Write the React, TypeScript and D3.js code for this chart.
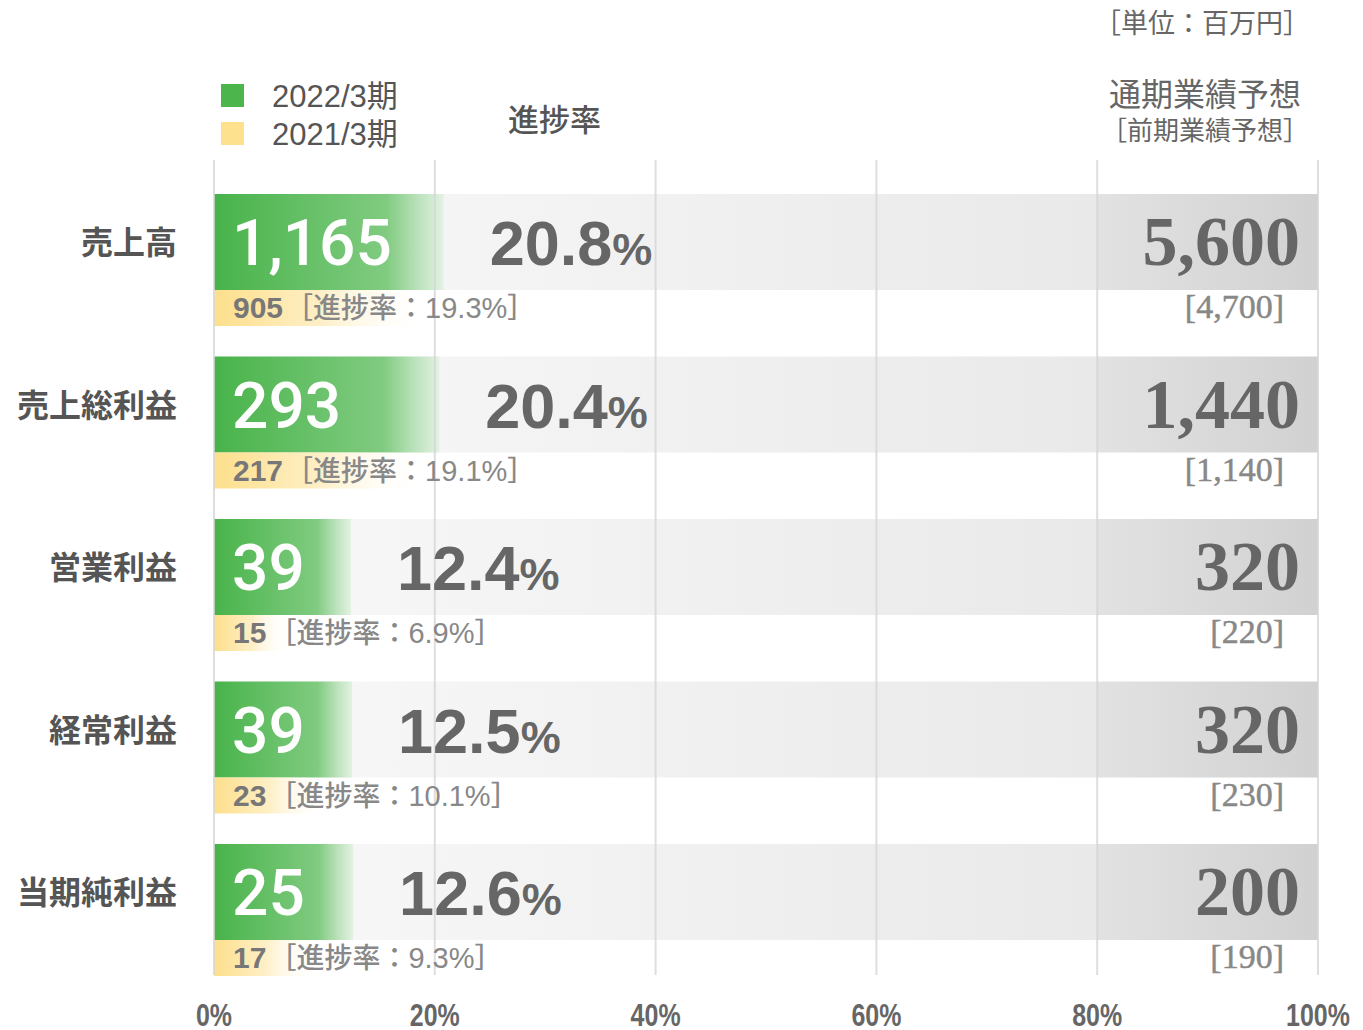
import * as d3 from 'd3'

const categories = ['売上高', '売上総利益', '営業利益', '経常利益', '当期純利益']
const current = [1165, 293, 39, 39, 25]
const progress = [20.8, 20.4, 12.4, 12.5, 12.6]
const previous = [905, 217, 15, 23, 17]
const prevProgress = [19.3, 19.1, 6.9, 10.1, 9.3]
const forecast = [5600, 1440, 320, 320, 200]
const prevForecast = [4700, 1140, 220, 230, 190]
const xTicks = [0, 20, 40, 60, 80, 100]

const width = 1363
const height = 1030
const JP = '"Noto Sans CJK JP", "Noto Sans", sans-serif'
const SANS = '"Liberation Sans", Arial, sans-serif'
const ROBOTO = 'Roboto, "Liberation Sans", sans-serif'
const SERIF = '"Liberation Serif", "Times New Roman", serif'

const fmt = d3.format(',')

export default function App() {
  const x = d3.scaleLinear([0, 100], [214, 1318])
  const y = d3
    .scaleBand<string>()
    .domain(categories)
    .range([194, 976])
    .paddingInner(30.5 / 162.5)
    .paddingOuter(0)
  const barH = 96
  const subH = y.bandwidth() - barH

  return (
    <svg
      width={width}
      height={height}
      style={{ position: 'absolute', left: 0, top: 0, background: '#fff' }}
    >
      <defs>
        <linearGradient id="green" x1="0" x2="1" y1="0" y2="0">
          <stop offset="0" stopColor="#48b34a" />
          <stop offset="0.75" stopColor="#80cb80" />
          <stop offset="0.9" stopColor="#bfe3bf" />
          <stop offset="1" stopColor="#e2f2e2" />
        </linearGradient>
        <linearGradient id="yellow" x1="0" x2="1" y1="0" y2="0">
          <stop offset="0" stopColor="#fddf8c" />
          <stop offset="0.5" stopColor="#feefc6" />
          <stop offset="1" stopColor="#ffffff" stopOpacity="0" />
        </linearGradient>
        <linearGradient id="grayA" x1="0" x2="1" y1="0" y2="0">
          <stop offset="0" stopColor="#f9f9f9" />
          <stop offset="1" stopColor="#e9e9e9" />
        </linearGradient>
        <linearGradient id="grayB" x1="0" x2="1" y1="0" y2="0">
          <stop offset="0" stopColor="#e2e2e2" />
          <stop offset="1" stopColor="#d1d1d1" />
        </linearGradient>
      </defs>

      {/* header */}
      <text x={1310} y={33} textAnchor="end" fontFamily={JP} fontSize={27} fill="#666">
        ［単位：百万円］
      </text>
      <text x={1205} y={106} textAnchor="middle" fontFamily={JP} fontSize={32} fill="#666">
        通期業績予想
      </text>
      <text x={1205} y={140} textAnchor="middle" fontFamily={JP} fontSize={26} fill="#666">
        ［前期業績予想］
      </text>
      <text x={508} y={131} fontFamily={JP} fontWeight={500} fontSize={31} fill="#555">
        進捗率
      </text>

      {/* legend */}
      <rect x={221} y={84} width={23} height={23} fill="#4cb64c" />
      <rect x={221} y={122} width={23} height={23} fill="#fee18f" />
      {['2022/3期', '2021/3期'].map((s, i) => (
        <text
          key={s}
          x={272}
          y={107 + i * 38}
          fontFamily={'"Liberation Sans", "Noto Sans CJK JP", sans-serif'}
          fontSize={31}
          fill="#555"
        >
          {s}
        </text>
      ))}

      {/* rows */}
      {categories.map((c, i) => {
        const y0 = y(c) ?? 0
        return (
          <g key={c}>
            <rect x={x(0)} y={y0} width={x(80) - x(0)} height={barH} fill="url(#grayA)" />
            <rect x={x(80)} y={y0} width={x(100) - x(80)} height={barH} fill="url(#grayB)" />
            <rect
              x={x(0)}
              y={y0}
              width={x(progress[i]) - x(0)}
              height={barH}
              fill="url(#green)"
            />
            <rect
              x={x(0)}
              y={y0 + barH}
              width={x(prevProgress[i]) - x(0)}
              height={subH}
              fill="url(#yellow)"
            />
          </g>
        )
      })}

      {/* gridlines */}
      {xTicks.map((t) => (
        <line
          key={t}
          x1={x(t)}
          x2={x(t)}
          y1={160}
          y2={975}
          stroke="#d6d6d6"
          strokeOpacity={0.8}
          strokeWidth={2}
        />
      ))}

      {categories.map((c, i) => {
        const y0 = y(c) ?? 0
        const mid = y0 + barH / 2
        return (
          <g key={c + '-t'}>
            <text
              x={177}
              y={mid + 12}
              textAnchor="end"
              fontFamily={JP}
              fontWeight={700}
              fontSize={32}
              fill="#555"
            >
              {c}
            </text>
            <text
              x={232}
              y={mid + 23}
              fontFamily={ROBOTO}
              fontWeight={500}
              fontSize={64}
              fill="#fff"
            >
              {fmt(current[i])}
            </text>
            <text x={x(progress[i]) + 46} y={mid + 23} fontFamily={SANS} fontWeight={700} fill="#666">
              <tspan fontSize={63}>{progress[i].toFixed(1)}</tspan>
              <tspan fontSize={45}>%</tspan>
            </text>
            <text
              x={1300}
              y={mid + 23}
              textAnchor="end"
              fontFamily={SERIF}
              fontWeight={700}
              fontSize={70}
              fill="#666"
            >
              {fmt(forecast[i])}
            </text>
            <text x={233} y={y0 + barH + 28} fontFamily={JP} fontWeight={500} fontSize={28} fill="#888">
              <tspan fontFamily={SANS} fontWeight={700} fontSize={30} fill="#777">
                {fmt(previous[i])}
              </tspan>
              <tspan dx={2}>［進捗率：</tspan>
              <tspan fontFamily={SANS} fontSize={29}>{prevProgress[i].toFixed(1)}%</tspan>
              <tspan>］</tspan>
            </text>
            <text
              x={1284}
              y={y0 + barH + 28}
              textAnchor="end"
              fontFamily={SERIF}
              fontSize={34}
              fill="#888"
              stroke="#888"
              strokeWidth={0.5}
            >
              [{fmt(prevForecast[i])}]
            </text>
          </g>
        )
      })}

      {/* x axis labels, condensed */}
      {xTicks.map((t) => (
        <text
          key={'l' + t}
          transform={`translate(${x(t)},1026) scale(0.78,1)`}
          textAnchor="middle"
          fontFamily={SANS}
          fontWeight={700}
          fontSize={32}
          fill="#666"
        >
          {t}%
        </text>
      ))}
    </svg>
  )
}
